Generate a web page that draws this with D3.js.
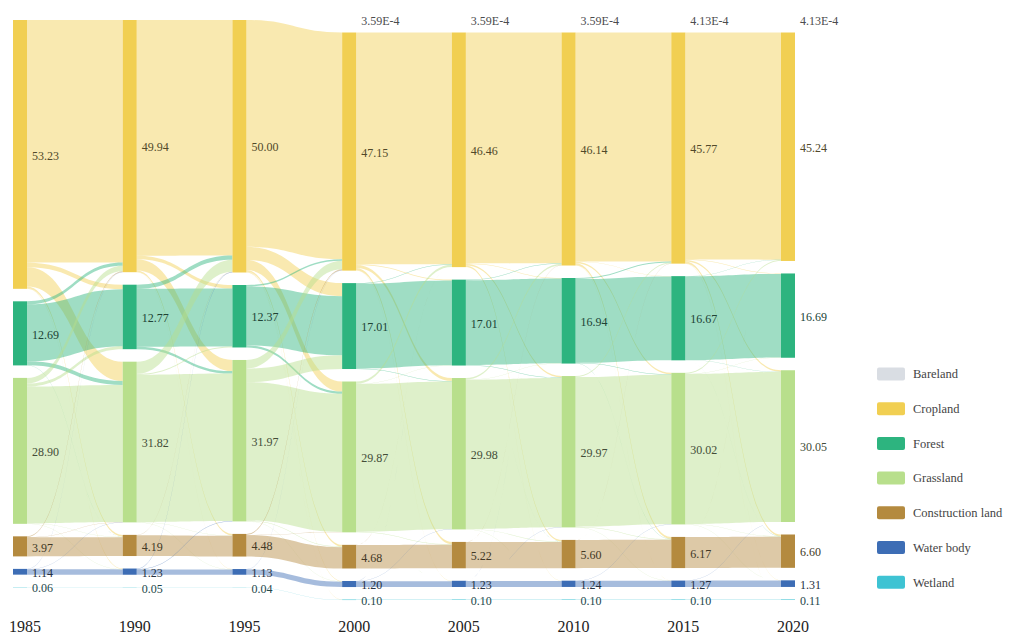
<!DOCTYPE html>
<html>
<head>
<meta charset="utf-8">
<script src="https://cdn.jsdelivr.net/npm/d3@7"></script>
<style>
  html, body { margin: 0; padding: 0; background: #fff; }
  svg { display: block; }
  svg text { font-family: "Liberation Serif", "Times New Roman", Times, serif; }
</style>
</head>
<body>
<svg id="chart" width="1016" height="634"></svg>
<script>
// ---- data -------------------------------------------------------------
const years = [1985, 1990, 1995, 2000, 2005, 2010, 2015, 2020];
const landTypes = ["Bareland", "Cropland", "Forest", "Grassland", "Construction land", "Water body", "Wetland"];
const typeColors = ["#d9dde3", "#f1cf52", "#2db47f", "#b8df8c", "#b48a3f", "#3d6db5", "#3ec3d3"];

// share of total area (%) by land type and year
const bareland     = [0, 0, 0, 3.59e-4, 3.59e-4, 3.59e-4, 4.13e-4, 4.13e-4];
const cropland     = [53.23, 49.94, 50.00, 47.15, 46.46, 46.14, 45.77, 45.24];
const forest       = [12.69, 12.77, 12.37, 17.01, 17.01, 16.94, 16.67, 16.69];
const grassland    = [28.90, 31.82, 31.97, 29.87, 29.98, 29.97, 30.02, 30.05];
const construction = [3.97, 4.19, 4.48, 4.68, 5.22, 5.60, 6.17, 6.60];
const waterBody    = [1.14, 1.23, 1.13, 1.20, 1.23, 1.24, 1.27, 1.31];
const wetland      = [0.06, 0.05, 0.04, 0.10, 0.10, 0.10, 0.10, 0.11];

// conversions between consecutive years: [from, to, % of area]; the unchanged part is the remainder
const change1985_1990 = [
  ["Cropland", "Forest", 0.9], ["Cropland", "Grassland", 3.8], ["Cropland", "Construction land", 0.35], ["Cropland", "Water body", 0.12],
  ["Forest", "Cropland", 0.6], ["Forest", "Grassland", 0.8], ["Forest", "Construction land", 0.02],
  ["Grassland", "Cropland", 1.1], ["Grassland", "Forest", 0.6], ["Grassland", "Construction land", 0.08], ["Grassland", "Water body", 0.05],
  ["Construction land", "Cropland", 0.15], ["Construction land", "Grassland", 0.05],
  ["Water body", "Cropland", 0.05], ["Water body", "Grassland", 0.03],
  ["Wetland", "Water body", 0.01]
];
const change1990_1995 = [
  ["Cropland", "Forest", 0.7], ["Cropland", "Grassland", 2.2], ["Cropland", "Construction land", 0.3], ["Cropland", "Water body", 0.05],
  ["Forest", "Cropland", 0.8], ["Forest", "Grassland", 0.5],
  ["Grassland", "Cropland", 2.4], ["Grassland", "Forest", 0.2], ["Grassland", "Construction land", 0.05], ["Grassland", "Water body", 0.03],
  ["Construction land", "Cropland", 0.05],
  ["Water body", "Cropland", 0.1], ["Water body", "Grassland", 0.08],
  ["Wetland", "Water body", 0.01]
];
const change1995_2000 = [
  ["Cropland", "Forest", 2.6], ["Cropland", "Grassland", 2.0], ["Cropland", "Construction land", 0.35], ["Cropland", "Water body", 0.1], ["Cropland", "Wetland", 0.03],
  ["Forest", "Cropland", 0.3], ["Forest", "Grassland", 0.4],
  ["Grassland", "Cropland", 1.7], ["Grassland", "Forest", 2.7], ["Grassland", "Construction land", 0.1], ["Grassland", "Water body", 0.05], ["Grassland", "Wetland", 0.03], ["Grassland", "Bareland", 3.59e-4],
  ["Construction land", "Cropland", 0.2], ["Construction land", "Grassland", 0.05],
  ["Water body", "Cropland", 0.05], ["Water body", "Grassland", 0.03]
];
const change2000_2005 = [
  ["Cropland", "Forest", 0.15], ["Cropland", "Grassland", 0.6], ["Cropland", "Construction land", 0.45], ["Cropland", "Water body", 0.05],
  ["Forest", "Cropland", 0.1], ["Forest", "Grassland", 0.1],
  ["Grassland", "Cropland", 0.45], ["Grassland", "Forest", 0.05], ["Grassland", "Construction land", 0.1], ["Grassland", "Water body", 0.02],
  ["Construction land", "Cropland", 0.02],
  ["Water body", "Cropland", 0.01], ["Water body", "Grassland", 0.02]
];
const change2005_2010 = [
  ["Cropland", "Forest", 0.1], ["Cropland", "Grassland", 0.3], ["Cropland", "Construction land", 0.3], ["Cropland", "Water body", 0.03],
  ["Forest", "Cropland", 0.1], ["Forest", "Grassland", 0.1], ["Forest", "Construction land", 0.02],
  ["Grassland", "Cropland", 0.3], ["Grassland", "Forest", 0.05], ["Grassland", "Construction land", 0.08], ["Grassland", "Water body", 0.01],
  ["Construction land", "Cropland", 0.02],
  ["Water body", "Cropland", 0.02], ["Water body", "Grassland", 0.01]
];
const change2010_2015 = [
  ["Cropland", "Forest", 0.05], ["Cropland", "Grassland", 0.3], ["Cropland", "Construction land", 0.4], ["Cropland", "Water body", 0.03],
  ["Forest", "Cropland", 0.2], ["Forest", "Grassland", 0.1], ["Forest", "Construction land", 0.05],
  ["Grassland", "Cropland", 0.2], ["Grassland", "Forest", 0.03], ["Grassland", "Construction land", 0.12], ["Grassland", "Water body", 0.01], ["Grassland", "Bareland", 0.54e-4],
  ["Construction land", "Cropland", 0.01],
  ["Water body", "Grassland", 0.01]
];
const change2015_2020 = [
  ["Cropland", "Forest", 0.1], ["Cropland", "Grassland", 0.3], ["Cropland", "Construction land", 0.35], ["Cropland", "Water body", 0.04], ["Cropland", "Wetland", 0.01],
  ["Forest", "Cropland", 0.05], ["Forest", "Grassland", 0.05], ["Forest", "Construction land", 0.02],
  ["Grassland", "Cropland", 0.2], ["Grassland", "Forest", 0.04], ["Grassland", "Construction land", 0.07], ["Grassland", "Water body", 0.01],
  ["Construction land", "Cropland", 0.01],
  ["Water body", "Grassland", 0.01]
];

const series = [bareland, cropland, forest, grassland, construction, waterBody, wetland];
const changes = [change1985_1990, change1990_1995, change1995_2000, change2000_2005,
                 change2005_2010, change2010_2015, change2015_2020];

// ---- layout -----------------------------------------------------------
const svg = d3.select("#chart");
const nodeWidth = 14, nodeGap = 12.5, plotTop = 20, plotBottom = 600;

const x = d3.scalePoint().domain(years).range([13, 781]);
const h = d3.scaleLinear().domain([0, 100])
  .range([0, plotBottom - plotTop - (landTypes.length - 1) * nodeGap]);

// stack the nodes of each year column
const columns = years.map((yr, ci) => {
  let y = plotTop;
  const nodes = {};
  landTypes.forEach((t, ti) => {
    const v = series[ti][ci];
    if (!(v > 0)) return;
    const n = { type: t, ti, ci, year: yr, value: v,
      x0: x(yr), x1: x(yr) + nodeWidth, y0: y, y1: y + h(v),
      color: typeColors[ti], ins: [], outs: [] };
    nodes[t] = n;
    y = n.y1 + nodeGap;
  });
  return nodes;
});

// links: listed conversions plus the unchanged remainder of each type
const links = [];
changes.forEach((list, p) => {
  const src = columns[p], tgt = columns[p + 1];
  Object.values(src).forEach(s => {
    const outList = list.filter(d => d[0] === s.type && tgt[d[1]]);
    const moved = d3.sum(outList, d => d[2]);
    outList.forEach(d => links.push({ source: s, target: tgt[d[1]], value: d[2] }));
    if (tgt[s.type]) links.push({ source: s, target: tgt[s.type], value: s.value - moved });
  });
});
links.forEach(l => { l.source.outs.push(l); l.target.ins.push(l); });

// place link ends inside their nodes
columns.forEach(col => Object.values(col).forEach(n => {
  n.outs.sort((a, b) => a.target.y0 - b.target.y0);
  let y = n.y0;
  const so = n.value / (d3.sum(n.outs, l => l.value) || 1);
  n.outs.forEach(l => { l.sy0 = y; y += h(l.value * so); l.sy1 = y; });
  n.ins.sort((a, b) => a.source.y0 - b.source.y0);
  y = n.y0;
  const si = n.value / (d3.sum(n.ins, l => l.value) || 1);
  n.ins.forEach(l => { l.ty0 = y; y += h(l.value * si); l.ty1 = y; });
}));

function linkPath(l) {
  const xs = l.source.x1, xt = l.target.x0, xm = (xs + xt) / 2;
  const p = d3.path();
  p.moveTo(xs, l.sy0);
  p.bezierCurveTo(xm, l.sy0, xm, l.ty0, xt, l.ty0);
  p.lineTo(xt, l.ty1);
  p.bezierCurveTo(xm, l.ty1, xm, l.sy1, xs, l.sy1);
  p.closePath();
  return p.toString();
}

// ---- draw -------------------------------------------------------------
svg.append("g").selectAll("path")
  .data(links.filter(l => l.value > 0))
  .join("path")
  .attr("d", linkPath)
  .attr("fill", l => l.source.color)
  .attr("fill-opacity", 0.46);

const allNodes = columns.flatMap(c => Object.values(c));

svg.append("g").selectAll("rect")
  .data(allNodes)
  .join("rect")
  .attr("x", d => d.x0)
  .attr("y", d => d.y0)
  .attr("width", nodeWidth)
  .attr("height", d => Math.max(0, d.y1 - d.y0))
  .attr("fill", d => d.color);

const fmt = v => v < 0.01 ? v.toExponential(2).toUpperCase() : v.toFixed(2);

svg.append("g").selectAll("text")
  .data(allNodes)
  .join("text")
  .attr("x", d => d.x1 + 5)
  .attr("y", d => (d.y0 + d.y1) / 2 + 1)
  .attr("dy", "0.35em")
  .style("font-size", "12px")
  .attr("fill", d => d3.interpolateRgb(d.color, "#1c1c1c")(0.75))
  .text(d => fmt(d.value));

// year labels
svg.append("g").selectAll("text")
  .data(years)
  .join("text")
  .attr("x", d => x(d) + nodeWidth / 2 + 5)
  .attr("y", 632)
  .attr("text-anchor", "middle")
  .style("font-size", "16px")
  .attr("fill", "#222")
  .text(d => d);

// legend
const legend = svg.append("g").selectAll("g")
  .data(landTypes)
  .join("g")
  .attr("transform", (d, i) => `translate(877, ${374 + i * 34.7})`);
legend.append("rect")
  .attr("x", 0).attr("y", -6.5)
  .attr("width", 28).attr("height", 13)
  .attr("rx", 2)
  .attr("fill", (d, i) => typeColors[i]);
legend.append("text")
  .attr("x", 36).attr("y", 0).attr("dy", "0.35em")
  .style("font-size", "12.5px")
  .attr("fill", "#444")
  .text(d => d);
</script>
</body>
</html>
